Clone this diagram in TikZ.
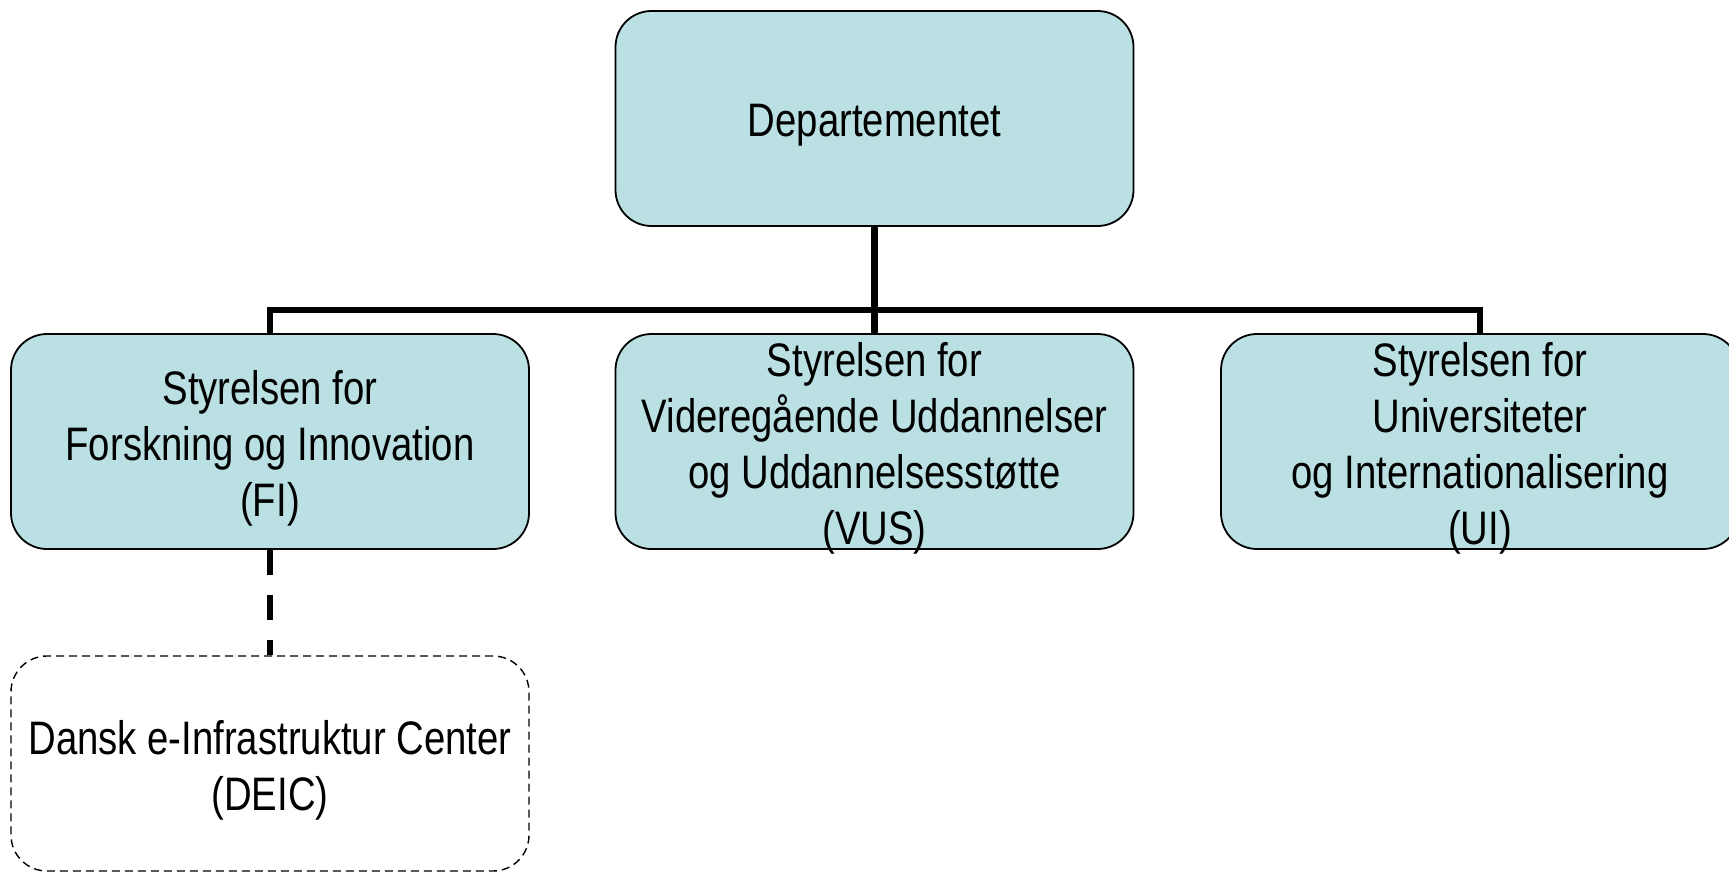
\documentclass[tikz,border=0pt]{standalone}
\usepackage{fontspec}
\setmainfont[FakeStretch=0.815]{Liberation Sans}
\definecolor{boxfill}{RGB}{187,224,227}
\begin{document}
\begin{tikzpicture}[x=0.5pt,y=-0.5pt,
  org/.style={draw=black, line width=0.9pt, fill=boxfill, rounded corners=18pt,
    minimum width=259pt, minimum height=107.5pt, inner sep=0pt},
  orgdash/.style={org, fill=none, line width=0.7pt, dash pattern=on 4pt off 2.5pt},
  txt/.style={align=center, inner sep=0pt,
    font=\fontsize{23.5}{28}\selectfont},
  conn/.style={line width=3.4pt}]
\clip (0,0) rectangle (1729,873);
\node[org] (dep) at (874.5,118.5) {};
\node[org] (fi)  at (270,441.5) {};
\node[org] (vus) at (874.5,441.5) {};
\node[org] (ui)  at (1480,441.5) {};
\node[orgdash] (deic) at (270,763.5) {};
\node[txt] (dept) at ([yshift=-3.6pt]dep.center) {Departementet};
\node[txt] (fit)  at ([yshift=-3.6pt]fi.center) {Styrelsen for\\Forskning og Innovation\\(FI)};
\node[txt] (vust) at ([yshift=-3.6pt]vus.center) {Styrelsen for\\Videregående Uddannelser\\og Uddannelsesstøtte\\(VUS)};
\node[txt] (uit)  at ([yshift=-3.6pt]ui.center) {Styrelsen for\\Universiteter\\og Internationalisering\\(UI)};
\node[txt] (deict) at ([yshift=-3.6pt]deic.center) {Dansk e-Infrastruktur Center\\(DEIC)};
\coordinate (bus) at (874.5,310);
\draw[conn] (dep.south) -- (bus);
\draw[conn] (fi.north) |- (bus) -| (ui.north);
\draw[conn] (bus) -- (vus.north);
\draw[conn, dash pattern=on 12.5pt off 10pt] (fi.south) -- (deic.north);
\end{tikzpicture}
\end{document}
